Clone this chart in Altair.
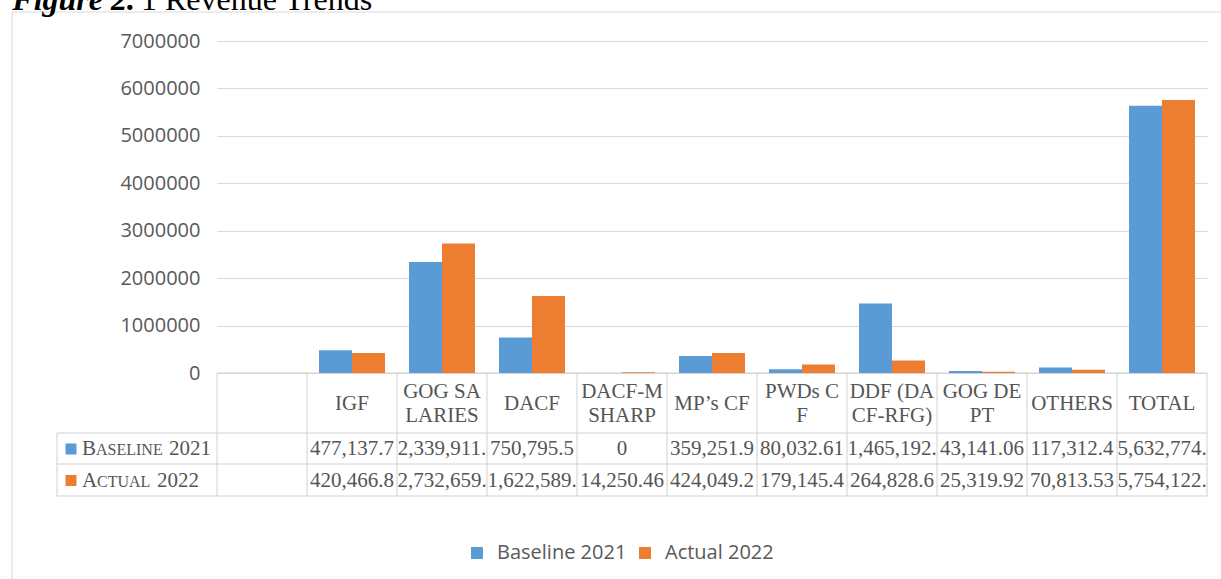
import altair as alt
import pandas as pd

categories = ["", "IGF", "GOG SALARIES", "DACF", "DACF-MSHARP", "MP’s CF", "PWDs CF",
              "DDF (DACF-RFG)", "GOG DEPT", "OTHERS", "TOTAL"]
header_labels = ["", "IGF", "GOG SA\nLARIES", "DACF", "DACF-M\nSHARP", "MP’s CF", "PWDs C\nF",
                 "DDF (DA\nCF-RFG)", "GOG DE\nPT", "OTHERS", "TOTAL"]
series_names = ["Baseline 2021", "Actual 2022"]
baseline_2021 = [477137.72, 2339911.5, 750795.5, 0, 359251.9, 80032.61, 1465192.4,
                 43141.06, 117312.4, 5632774.2]
actual_2022 = [420466.82, 2732659.5, 1622589.5, 14250.46, 424049.2, 179145.4, 264828.6,
               25319.92, 70813.53, 5754122.1]
y_ticks = [0, 1000000, 2000000, 3000000, 4000000, 5000000, 6000000, 7000000]
colors = ["#5B9BD5", "#ED7D31"]

W, H = 990, 332
LINE = "#d0d0d0"
TXT = "#555555"
SERIF = "Liberation Serif"
SANS = "Open Sans"

rows = []
for c, b, a in zip(categories[1:], baseline_2021, actual_2022):
    rows.append({"cat": c, "series": series_names[0], "value": b})
    rows.append({"cat": c, "series": series_names[1], "value": a})
df = pd.DataFrame(rows)
hdr = pd.DataFrame({"cat": categories, "label": header_labels})
one = pd.DataFrame({"k": [0]})

xscale = alt.Scale(domain=categories, paddingInner=0, paddingOuter=0)
yscale = alt.Scale(domain=[0, 7000000], nice=False)

bars = alt.Chart(df).mark_bar().encode(
    x=alt.X("cat:N", scale=xscale, axis=None, sort=categories),
    xOffset=alt.XOffset("series:N", scale=alt.Scale(domain=series_names, paddingOuter=0.364, paddingInner=0)),
    y=alt.Y("value:Q", scale=yscale,
            axis=alt.Axis(values=y_ticks, format="d", title=None, domain=False, ticks=False,
                          labelFont=SANS, labelFontSize=20, labelColor="#595959", labelPadding=17,
                          gridColor="#d9d9d9", gridWidth=1)),
    color=alt.Color("series:N", scale=alt.Scale(domain=series_names, range=colors),
                    legend=alt.Legend(orient="none", legendX=250, legendY=502, direction="horizontal",
                                      title=None, symbolType="square", symbolSize=144,
                                      symbolStrokeWidth=0, labelFont=SANS, labelFontSize=20,
                                      labelColor="#595959", labelOffset=10, columnPadding=8,
                                      padding=0, labelBaseline="middle")),
)

def header_layer(multi, ypos):
    test = alt.expr.indexof(alt.datum.label, "\n") >= 0
    return alt.Chart(hdr).transform_filter(test if multi else ~test).mark_text(
        font=SERIF, fontSize=21, color=TXT, lineBreak="\n", lineHeight=24,
        baseline="middle", align="center").encode(
        x=alt.X("cat:N", scale=xscale, axis=None),
        y=alt.value(ypos),
        text="label:N",
    )

header1 = header_layer(False, 363)
header2 = header_layer(True, 351)

def value_row(name, ypos):
    return alt.Chart(df).transform_filter(alt.datum.series == name).mark_text(
        font=SERIF, fontSize=21, color=TXT, baseline="middle", align="center",
        limit=90, ellipsis="\u200b").encode(
        x=alt.X("cat:N", scale=xscale, axis=None),
        y=alt.value(ypos),
        text=alt.Text("value:Q", format=",~f"),
    )

row1 = value_row(series_names[0], 408)
row2 = value_row(series_names[1], 439.5)

vlines = alt.Chart(hdr).mark_rule(color=LINE, strokeWidth=1).encode(
    x=alt.X("cat:N", scale=xscale, axis=None, bandPosition=0),
    y=alt.value(332), y2=alt.value(455),
)

def rule(x, x2, y, y2, color=LINE):
    return alt.Chart(one).mark_rule(color=color, strokeWidth=1).encode(
        x=alt.value(x), x2=alt.value(x2), y=alt.value(y), y2=alt.value(y2))

grid_lines = [
    rule(W, W, 332, 455),
    rule(-160, -160, 392, 455),
    rule(0, W, 332, 332),
    rule(-160, W, 392, 392),
    rule(-160, W, 423, 423),
    rule(-160, W, 455, 455),
    rule(-205, -205, -29, 560, "#d9d9d9"),
    rule(-205, 1010, -29, -29, "#d9d9d9"),
]

def label(text, x, y, size, font=SERIF, color=TXT, style="normal", weight="normal",
          baseline="middle", align="left"):
    return alt.Chart(one).mark_text(text=text, font=font, fontSize=size, color=color, align=align,
                                    baseline=baseline, fontStyle=style, fontWeight=weight).encode(
        x=alt.value(x), y=alt.value(y))

def square(color, y):
    return alt.Chart(one).mark_square(size=121, color=color, opacity=1).encode(
        x=alt.value(-146), y=alt.value(y))

row_labels = [
    square(colors[0], 408), square(colors[1], 439.5),
    label("B", -135, 408, 21), label("ASELINE", -121, 409, 16), label("2021", -48, 408, 21),
    label("A", -135, 439.5, 21), label("CTUAL", -120, 440.5, 16), label("2022", -60, 439.5, 21),
]

title = [
    label("Figure 2.", -82, -31, 32, color="#000000", style="italic", weight="bold",
          baseline="alphabetic", align="right"),
    label("1 Revenue Trends", -76, -31, 32, color="#000000", baseline="alphabetic"),
]

chart = alt.layer(*grid_lines, vlines, bars, header1, header2, row1, row2, *row_labels, *title).properties(
    width=W, height=H,
    autosize=alt.AutoSizeParams(type="none"),
    padding={"left": 217, "top": 41, "right": 14, "bottom": 206},
    background="white",
).configure_view(strokeWidth=0)

chart.save("out.html", embed_options={"renderer": "svg", "actions": False})
